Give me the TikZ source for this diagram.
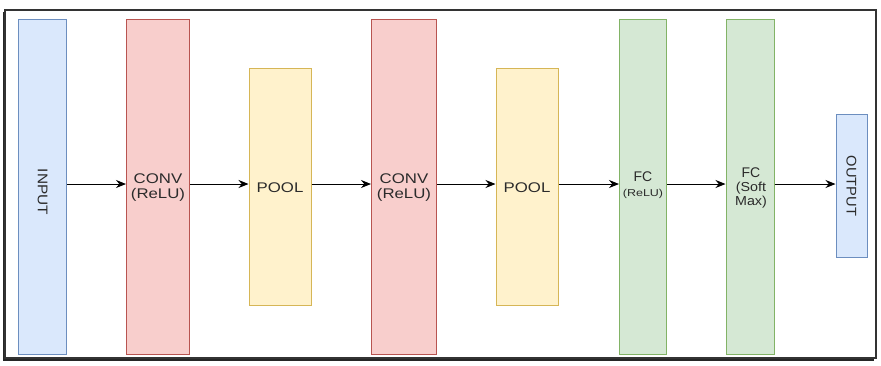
\documentclass[tikz,border=0pt]{standalone}
\usepackage{fontspec}
\setmainfont{Liberation Sans}
\usetikzlibrary{arrows.meta}
\definecolor{bluefill}{HTML}{DAE8FC}\definecolor{bluedraw}{HTML}{6C8EBF}
\definecolor{redfill}{HTML}{F8CECC}\definecolor{reddraw}{HTML}{B85450}
\definecolor{yelfill}{HTML}{FFF2CC}\definecolor{yeldraw}{HTML}{D6B656}
\definecolor{grnfill}{HTML}{D5E8D4}\definecolor{grndraw}{HTML}{82B366}
\definecolor{txt}{HTML}{2B2B2B}
\begin{document}
\begin{tikzpicture}[x=1pt,y=-1pt,
  layer/.style={draw, line width=1pt, inner sep=0pt},
  bluebox/.style={layer, fill=bluefill, draw=bluedraw},
  redbox/.style={layer, fill=redfill, draw=reddraw},
  yelbox/.style={layer, fill=yelfill, draw=yeldraw},
  grnbox/.style={layer, fill=grnfill, draw=grndraw},
  lbl/.style={text=txt, align=center, inner sep=0pt, font=\fontsize{14}{15}\selectfont},
  conn/.style={-{Stealth[length=10pt,width=8pt]}, line width=1pt, black}]
\useasboundingbox (0,0) rectangle (881,365);
\fill[white] (0,0) rectangle (881,365);
% frame with shadow
\draw[line width=2.5pt, black!85] (4,12) -- (4,359.5) -- (874,359.5);
\draw[line width=1.2pt, black!80] (5,10) rectangle (876,358);
% layers
\node[bluebox, minimum width=48pt, minimum height=335pt] (in) at (42.5,186.5) {};
\node[lbl, rotate=-90] (inl) at (42.5,192) {\scalebox{1.1}[1]{INPUT}};
\node[redbox, minimum width=63pt, minimum height=335pt] (c1) at (158,186.5) {};
\node[lbl] (c1l) at (158,188) {\scalebox{1.2}[1]{CONV}\\\scalebox{1.2}[1]{(ReLU)}};
\node[yelbox, minimum width=62pt, minimum height=237pt] (p1) at (280,186.5) {};
\node[lbl] (p1l) at (280,188) {\scalebox{1.2}[1]{POOL}};
\node[redbox, minimum width=65pt, minimum height=335pt] (c2) at (404,186.5) {};
\node[lbl] (c2l) at (404,188) {\scalebox{1.2}[1]{CONV}\\\scalebox{1.2}[1]{(ReLU)}};
\node[yelbox, minimum width=62pt, minimum height=237pt] (p2) at (527,186.5) {};
\node[lbl] (p2l) at (527,188) {\scalebox{1.2}[1]{POOL}};
\node[grnbox, minimum width=47pt, minimum height=335pt] (f1) at (643,186.5) {};
\node[lbl] (f1l) at (643,185) {\fontsize{14}{18}\selectfont FC\\\fontsize{10}{11}\selectfont\scalebox{1.25}[1]{(ReLU)}};
\node[grnbox, minimum width=48pt, minimum height=335pt] (f2) at (750,186.5) {};
\node[lbl, font=\fontsize{13}{14}\selectfont] (f2l) at (751,188) {\fontsize{14}{15}\selectfont FC\\\scalebox{1.1}[1]{(Soft}\\\scalebox{1.1}[1]{Max)}};
\node[bluebox, minimum width=31pt, minimum height=143pt] (out) at (851.5,185.5) {};
\node[lbl, rotate=-90] (outl) at (851.5,186) {\scalebox{1.05}[1]{OUTPUT}};
% connectors
\draw[conn] (in.east |- 0,184) -- (c1.west |- 0,184);
\draw[conn] (c1.east |- 0,184) -- (p1.west |- 0,184);
\draw[conn] (p1.east |- 0,184) -- (c2.west |- 0,184);
\draw[conn] (c2.east |- 0,184) -- (p2.west |- 0,184);
\draw[conn] (p2.east |- 0,184) -- (f1.west |- 0,184);
\draw[conn] (f1.east |- 0,184) -- (f2.west |- 0,184);
\draw[conn] (f2.east |- 0,184) -- (out.west |- 0,184);
\end{tikzpicture}
\end{document}
